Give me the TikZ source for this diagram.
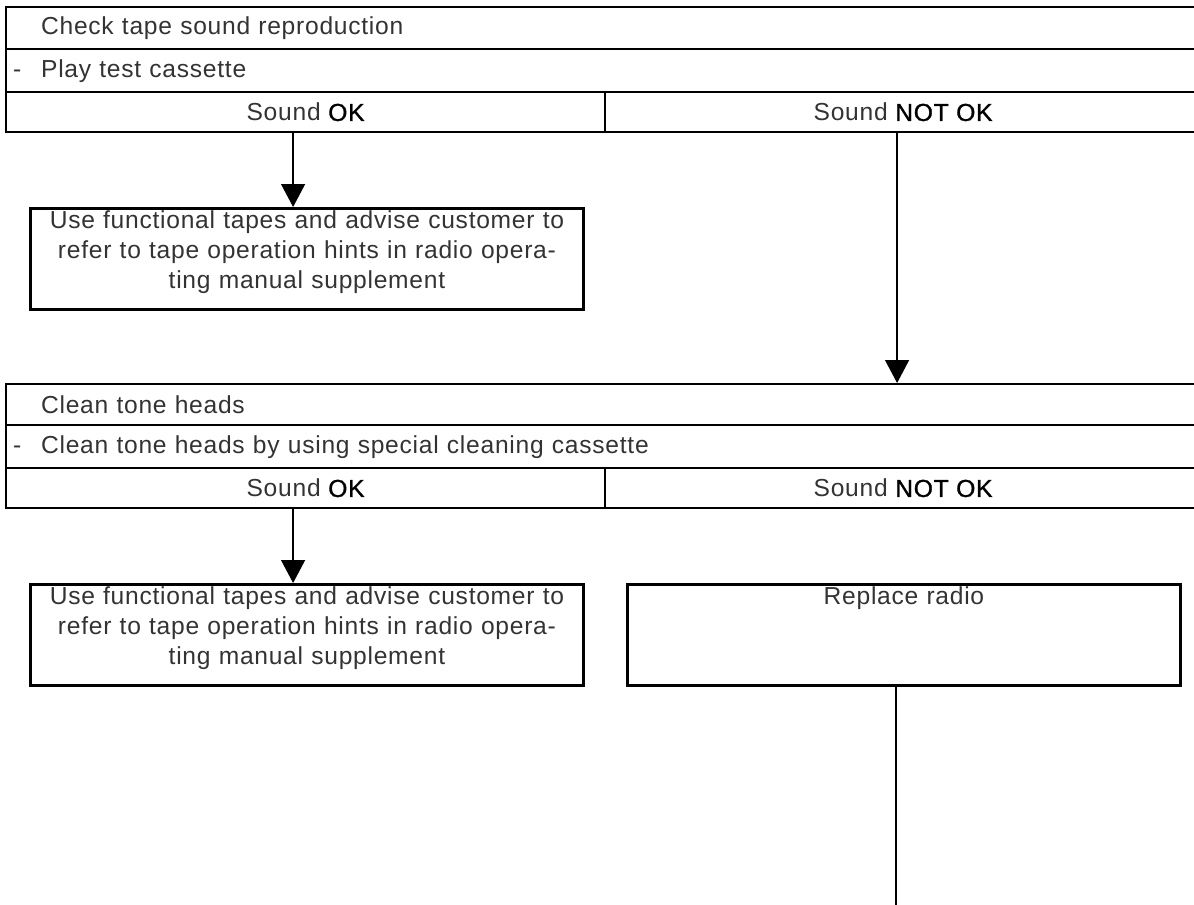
\documentclass[tikz,border=0pt]{standalone}
\usepackage{fontspec}
\setmainfont{Liberation Sans}[LetterSpace=3]
\newfontface\okf{Liberation Sans}[LetterSpace=3, FakeBold=1.2]
\usetikzlibrary{arrows.meta}

\begin{document}
\begin{tikzpicture}[x=0.02cm, y=-0.02cm,
  every node/.style={font=\fontsize{14}{17}\selectfont, text=black!80},
  cell/.style={draw=black, line width=1.3pt, anchor=north west, inner ysep=0pt},
  leftrow/.style={cell, align=left, text width=22.5cm, inner xsep=0.7cm},
  dashrow/.style={cell, align=left, text width=23.62cm, inner xsep=0.14cm},
  half/.style={cell, minimum height=0.8cm},
  hintbox/.style={draw=black, line width=1.7pt, anchor=north west, align=center,
    text width=10.8cm, inner xsep=0.13cm, inner ysep=0pt, minimum height=2.02cm},
  arr/.style={-{Triangle[width=0.48cm, length=0.46cm]}, line width=0.75pt}]
  \useasboundingbox (0,0) rectangle (1194,904);

  \node (check) [leftrow, minimum height=0.84cm] at (5,6) {Check tape sound reproduction};
  \node (play) [dashrow, minimum height=0.86cm] at (5,48) {\makebox[0.56cm][l]{-}Play test cassette};
  \node (ok1) [half, minimum width=11.98cm] at (5,91) {Sound {\okf\color{black}OK}\hspace{0.5cm}};
  \node (nok1) [half, minimum width=11.92cm] at (604,91) {Sound {\okf\color{black}NOT OK}\hspace{0.24cm}};
  \node (hint1) [hintbox] at (29,207) {Use functional tapes and advise customer to\\
    refer to tape operation hints in radio opera-\\ ting manual supplement\\[-6pt] \mbox{}};
  \draw[arr] ([xshift=-0.25cm]ok1.south) -- ([xshift=-0.25cm]ok1.south |- hint1.north);

  \node (clean) [leftrow, minimum height=0.82cm] at (5,383) {Clean tone heads};
  \node (cleancass) [dashrow, minimum height=0.86cm] at (5,424) {\makebox[0.56cm][l]{-}Clean tone heads by using special cleaning cassette};
  \node (ok2) [half, minimum width=11.98cm] at (5,467) {Sound {\okf\color{black}OK}\hspace{0.5cm}};
  \node (nok2) [half, minimum width=11.92cm] at (604,467) {Sound {\okf\color{black}NOT OK}\hspace{0.24cm}};
  \draw[arr] ([xshift=-0.12cm]nok1.south) -- ([xshift=-0.12cm]nok1.south |- clean.north);

  \node (hint2) [hintbox] at (29,583) {Use functional tapes and advise customer to\\
    refer to tape operation hints in radio opera-\\ ting manual supplement\\[-6pt] \mbox{}};
  \node (replace) [hintbox] at (626,583) {Replace radio\\ \mbox{}\\ \mbox{}\\[-6pt] \mbox{}};
  \draw[arr] ([xshift=-0.25cm]ok2.south) -- ([xshift=-0.25cm]ok2.south |- hint2.north);

  \coordinate (more) at (896,910);
  \draw[line width=0.75pt] (replace.south -| more) -- (more);
\end{tikzpicture}
\end{document}
